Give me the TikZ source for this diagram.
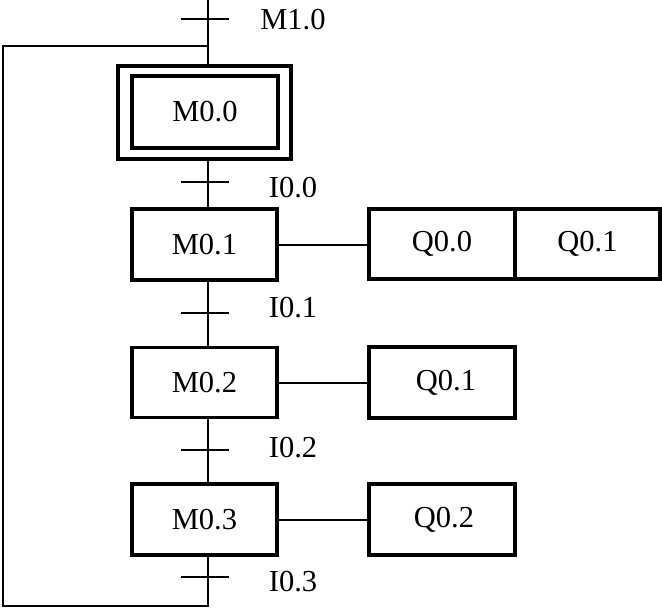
\documentclass[tikz,border=0pt]{standalone}
\usepackage{fontspec}
\setmainfont{Liberation Serif}
\usetikzlibrary{calc}
\begin{document}
\begin{tikzpicture}[x=1pt,y=-1pt,
  box/.style={draw, line width=3.2pt, inner sep=0pt, font=\fontsize{30.5}{32}\selectfont},
  lbl/.style={inner sep=0pt, font=\fontsize{30.5}{32}\selectfont},
  ln/.style={line width=2pt},
  bar/.style={line width=2pt}]
\useasboundingbox (0,0) rectangle (662,608);
% steps
\node[box, minimum width=173pt, minimum height=93pt] (m00o) at (204.5,112.5) {};
\node[box, minimum width=146pt, minimum height=72pt] (m00) at (205,112) {M0.0};
\node[box, minimum width=145pt, minimum height=71pt] (m01) at (204.5,244.5) {M0.1};
\node[box, minimum width=145pt, minimum height=70pt] (m02) at (204.5,382.5) {M0.2};
\node[box, minimum width=145pt, minimum height=71pt] (m03) at (204.5,519.5) {M0.3};
% actions
\node[box, minimum width=146pt, minimum height=70pt] (q00) at (442,244) {Q0.0};
\node[box, minimum width=145pt, minimum height=70pt] (q01a) at (587.5,244) {Q0.1};
\node[box, minimum width=146pt, minimum height=71pt] (q01b) at (442,382.5) {\hspace*{8pt}Q0.1};
\node[box, minimum width=146pt, minimum height=71pt] (q02) at (442,519.5) {\hspace*{4pt}Q0.2};
% transition coordinates
\coordinate (top) at (207.5,0);
\coordinate (t0) at (207.5,19);
\coordinate (j) at (207.5,46);
\coordinate (t1) at (207.5,182);
\coordinate (t2) at (207.5,313);
\coordinate (t3) at (207.5,450);
\coordinate (t4) at (207.5,577);
\coordinate (bot) at (207.5,606);
\coordinate (cl) at (2.5,46);
% spine
\draw[ln] (top) -- (m00o.north -| top);
\draw[ln] (m00o.south -| top) -- (m01.north -| top);
\draw[ln] (m01.south -| top) -- (m02.north -| top);
\draw[ln] (m02.south -| top) -- (m03.north -| top);
\draw[ln] (m03.south -| top) -- (bot) -| (cl) -- (j);
% transition bars
\foreach \t in {t0,t1,t2,t3,t4} \draw[bar] ($(\t)+(-27,0)$) -- ($(\t)+(21,0)$);
% action links
\draw[ln] (m01.east) -- (m01.east -| q00.west);
\draw[ln] (m02.east) -- (m02.east -| q01b.west);
\draw[ln] (m03.east) -- (m03.east -| q02.west);
% labels
\node[lbl] (l0) at (293,20) {M1.0};
\node[lbl] (l1) at (293,188) {I0.0};
\node[lbl] (l2) at (293,308) {I0.1};
\node[lbl] (l3) at (293,448) {I0.2};
\node[lbl] (l4) at (293,582) {I0.3};
\end{tikzpicture}
\end{document}
